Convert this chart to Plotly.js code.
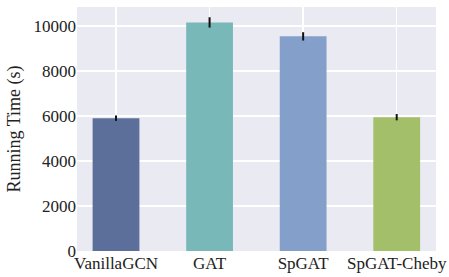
<!DOCTYPE html>
<html>
<head>
<meta charset="utf-8">
<script src="https://cdn.plot.ly/plotly-3.0.1.min.js"></script>
<style>html,body{margin:0;padding:0;background:#fff;}#chart{width:449px;height:277px;}</style>
</head>
<body>
<div id="chart"></div>
<script>
const categories = ["VanillaGCN", "GAT", "SpGAT", "SpGAT-Cheby"];
const runningTime = [5900, 10155, 9535, 5945];
const errorHalf = [120, 230, 185, 140];
const barColors = ["#5c6f9a", "#79b8b8", "#839fca", "#a3bf69"];
const yTicks = [0, 2000, 4000, 6000, 8000, 10000];

const trace = {
  type: "bar",
  x: categories,
  y: runningTime,
  width: 0.5,
  marker: {color: barColors, line: {width: 0}},
  error_y: {type: "data", array: errorHalf, visible: true, color: "#111", thickness: 2, width: 0}
};

const layout = {
  width: 449, height: 277,
  margin: {l: 77, r: 13, t: 7, b: 26},
  paper_bgcolor: "#ffffff",
  plot_bgcolor: "#eaeaf2",
  showlegend: false,
  font: {family: "Liberation Serif, Times New Roman, serif", color: "#222", size: 17},
  xaxis: {
    range: [-0.417, 3.42],
    showgrid: true, gridcolor: "#ffffff", gridwidth: 1.5,
    zeroline: false, showline: false, ticks: "",
    tickfont: {size: 17, color: "#222"}
  },
  yaxis: {
    range: [0, 10840],
    tickvals: yTicks,
    ticktext: yTicks.map(String),
    showgrid: true, gridcolor: "#ffffff", gridwidth: 1.5,
    zeroline: false, showline: false, ticks: "",
    tickfont: {size: 17, color: "#222"},
    title: {text: "Running Time (s)", font: {size: 18, color: "#222"}, standoff: 8}
  }
};

Plotly.newPlot("chart", [trace], layout, {displayModeBar: false, staticPlot: true});
</script>
</body>
</html>
